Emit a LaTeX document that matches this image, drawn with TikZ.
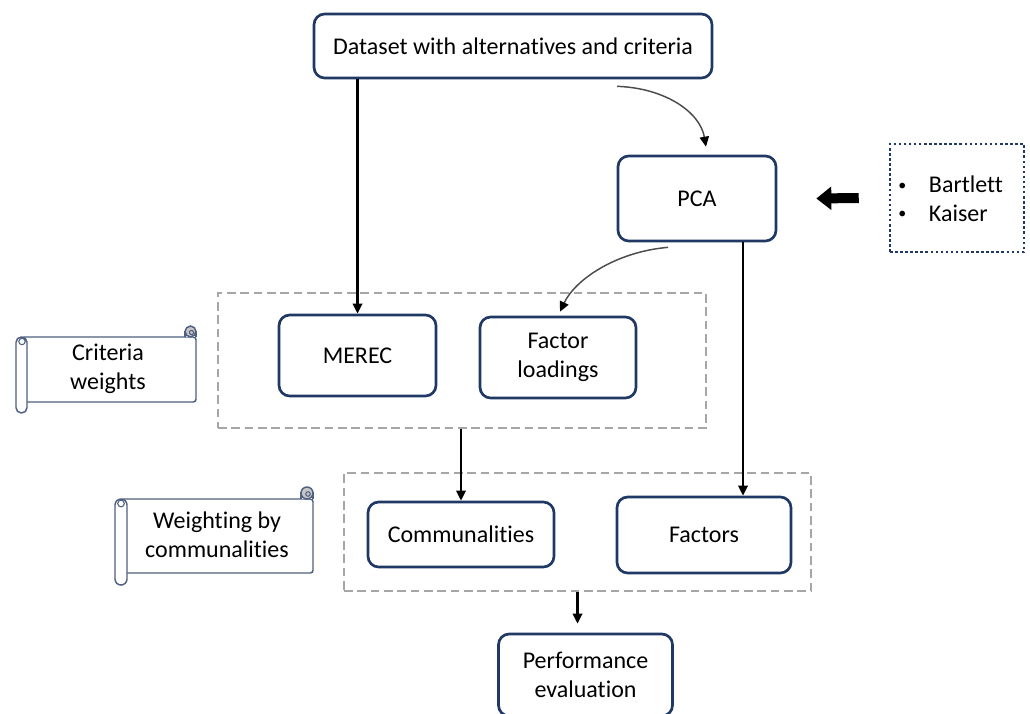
\documentclass[tikz,border=0pt]{standalone}
\usepackage{fontspec}
\setmainfont{Carlito}[RawFeature={-liga;-clig;-calt;-dlig}]
\usetikzlibrary{arrows.meta,calc}
\definecolor{navy}{HTML}{1F3864}
\definecolor{dashgray}{HTML}{A6A6A6}
\definecolor{scrollcol}{HTML}{4F6080}
\newcommand{\smallbul}{\makebox[12pt]{\raisebox{1.6pt}{\fontsize{12}{12}\selectfont\textbullet}}}
\begin{document}
\begin{tikzpicture}[x=0.75pt,y=-0.75pt,
  font=\fontsize{18}{21.5}\selectfont,
  box/.style={draw=navy, line width=2pt, rounded corners=8pt, fill=white, align=center, inner sep=0pt},
  dashbox/.style={draw=dashgray, line width=1.8pt, dash pattern=on 6.5pt off 3.5pt, inner sep=0pt},
  dotbox/.style={draw=navy, line width=1.9pt, dash pattern=on 1.9pt off 1.9pt, inner sep=0pt},
  arr/.style={line width=1.8pt, -{Triangle[length=7.5pt 0 0, width=7pt 0 0]}},
  curvy/.style={line width=1.1pt, draw=black!70, -{Triangle[length=7.5pt 0 0, width=7pt 0 0, color=black]}},
  scr/.style={draw=scrollcol, line width=1.1pt, fill=white},
  lbl/.style={align=center, inner sep=0pt}]
\useasboundingbox (0,0) rectangle (1030,713);

% dashed groups
\node[dashbox, minimum width=366pt, minimum height=101.25pt] (grp1) at (462,360.5) {};
\node[dashbox, minimum width=350.25pt, minimum height=88.5pt] (grp2) at (577.5,532) {};

% boxes
\node[box, minimum width=298.5pt, minimum height=48pt] (data) at (513,46) {Dataset with alternatives and criteria};
\node[box, minimum width=118.5pt, minimum height=63.75pt] (pca) at (697,198.5) {PCA};
\node[box, minimum width=117.75pt, minimum height=60.75pt] (merec) at (357.5,355.5) {MEREC};
\node[box, minimum width=117pt, minimum height=60.75pt] (fl) at (558,357.5) {Factor\\loadings};
\node[box, minimum width=139.5pt, minimum height=48.75pt] (comm) at (461,534.5) {Communalities};
\node[box, minimum width=130.5pt, minimum height=57pt] (fac) at (704,535) {Factors};
\node[box, minimum width=130.5pt, minimum height=61.5pt] (perf) at (585.5,675) {Performance\\evaluation};

% tests box
\node[dotbox, minimum width=100.5pt, minimum height=81pt] (tests) at (957,198) {};
\node[anchor=west, align=left, inner sep=0pt] (tlist) at (894,198.5) {\smallbul\hspace{14pt}Bartlett\\\smallbul\hspace{14pt}Kaiser};

% scroll 1
\filldraw[scr, rounded corners=2pt] (21.5,337) rectangle (196,402);
\filldraw[scr] (185,337) -- (185,331.5) -- (196,331.5) -- (196,337);
\filldraw[scr, fill=gray!45] (190.5,331.5) circle[radius=4.1pt];
\draw[scrollcol, line width=0.8pt] (191.5,332.5) circle[radius=1.6pt];
\filldraw[scr, rounded corners=4pt] (16,337) rectangle (27,413);
\draw[scrollcol, line width=0.8pt] (22,341.5) circle[radius=2.4pt];
\node[lbl] (critw) at (108,369) {Criteria\\weights};

% scroll 2
\filldraw[scr, rounded corners=2pt] (121,499) rectangle (313,573);
\filldraw[scr] (301,499) -- (301,493) -- (313,493) -- (313,499);
\filldraw[scr, fill=gray!45] (307,493) circle[radius=4.5pt];
\draw[scrollcol, line width=0.8pt] (308,494) circle[radius=1.7pt];
\filldraw[scr, rounded corners=4.5pt] (115,499) rectangle (127,585);
\draw[scrollcol, line width=0.8pt] (121,503.5) circle[radius=2.5pt];
\node[lbl] (wcomm) at (217,535) {Weighting by\\communalities};

% connectors
\coordinate (pcaout) at ([xshift=34.5pt]pca.south);
\draw[arr] (merec.north |- data.south) -- (merec.north);
\draw[arr] (pcaout) -- (pcaout |- fac.north);
\draw[arr] (comm.north |- grp1.south) -- (comm.north);
\draw[arr, shorten >=6.75pt] (grp2.south) -- (grp2.south |- perf.north);

\draw[curvy] ([xshift=78pt,yshift=-5.25pt]data.south) .. controls (665,88) and (700,112) .. ([xshift=6.75pt,yshift=6pt]pca.north);
\draw[curvy] ([xshift=-21.75pt,yshift=-3.75pt]pca.south) .. controls (615,252) and (575,280) .. ([xshift=1.5pt,yshift=3pt]fl.north);

\draw[line width=7.5pt, -{Triangle[length=11.25pt 0 0, width=17pt 0 0]}] ([xshift=-22.5pt]tests.west) -- ([xshift=29.25pt]pca.east);
\end{tikzpicture}
\end{document}
